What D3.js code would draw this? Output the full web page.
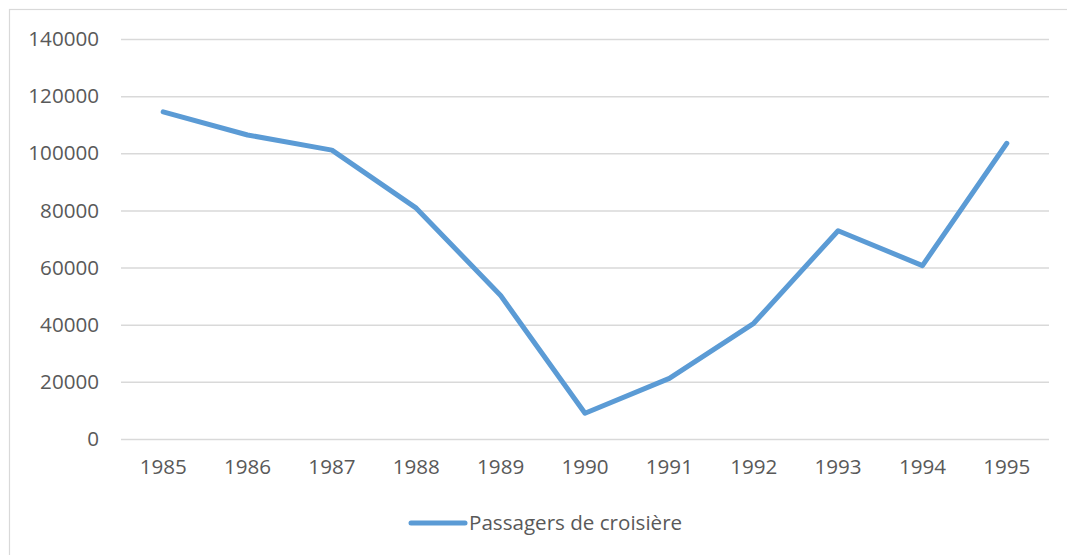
<!DOCTYPE html>
<html>
<head>
<meta charset="utf-8">
<script src="https://cdn.jsdelivr.net/npm/d3@7"></script>
<style>
html,body{margin:0;padding:0;background:#fff;}
svg{display:block;}
text{font-family:"Open Sans",sans-serif;fill:#595959;}
</style>
</head>
<body>
<svg id="chart" width="1067" height="555"></svg>
<script>
const categories = ["1985","1986","1987","1988","1989","1990","1991","1992","1993","1994","1995"];
const values = [114500, 106400, 101100, 80800, 50200, 9000, 21200, 40500, 72900, 60700, 103500];
const yTicks = [0, 20000, 40000, 60000, 80000, 100000, 120000, 140000];
const seriesName = "Passagers de croisière";

const svg = d3.select("#chart");
const W = 1067, H = 555;
const m = {left:121, right:1049, top:39, bottom:439};
const fs = 20.6;

// chart border
svg.append("rect").attr("x",9.5).attr("y",9.5).attr("width",W+10).attr("height",H+10)
  .attr("fill","none").attr("stroke","#d9d9d9").attr("stroke-width",1.2);

const x = d3.scaleBand().domain(categories).range([m.left, m.right]).padding(0);
const y = d3.scaleLinear().domain([0,140000]).range([m.bottom, m.top]);

// gridlines
const yAxis = d3.axisLeft(y).tickValues(yTicks).tickSize(-(m.right-m.left)).tickPadding(22).tickFormat(d3.format("d"));
const gy = svg.append("g").attr("transform",`translate(${m.left},0)`).call(yAxis);
gy.select(".domain").remove();
gy.selectAll(".tick line").attr("stroke","#d9d9d9").attr("stroke-width",1.5);
gy.selectAll(".tick text").attr("font-size",fs).attr("fill","#595959").attr("font-family","'Open Sans',sans-serif");

const xAxis = d3.axisBottom(x).tickSize(0).tickPadding(20);
const gx = svg.append("g").attr("transform",`translate(0,${m.bottom})`).call(xAxis);
gx.select(".domain").remove();
gx.selectAll(".tick text").attr("font-size",fs).attr("fill","#595959").attr("font-family","'Open Sans',sans-serif");

const line = d3.line().x((d,i)=>x(categories[i])+x.bandwidth()/2).y(d=>y(d));
svg.append("path").datum(values).attr("d",line).attr("fill","none")
  .attr("stroke","#5b9bd5").attr("stroke-width",5).attr("stroke-linejoin","round").attr("stroke-linecap","round");

// legend
const lg = svg.append("g");
lg.append("line").attr("x1",411).attr("x2",465).attr("y1",523).attr("y2",523)
  .attr("stroke","#5b9bd5").attr("stroke-width",5).attr("stroke-linecap","round");
lg.append("text").attr("x",469).attr("y",523).attr("dy","0.35em").attr("font-size",fs).text(seriesName);
</script>
</body>
</html>
